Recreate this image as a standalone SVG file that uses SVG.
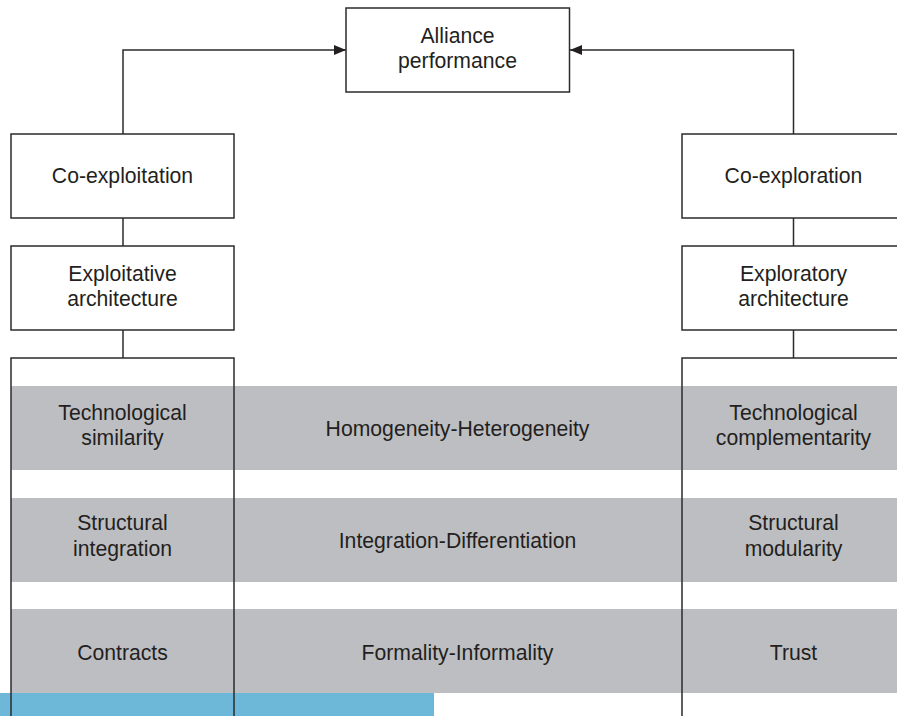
<svg xmlns="http://www.w3.org/2000/svg" width="897" height="716" viewBox="0 0 897 716">
<style>
.band{fill:#bdbec2}
.box{fill:none;stroke:#2b2b2b;stroke-width:1.5}
.bg{fill:#ffffff;stroke:#2b2b2b;stroke-width:1.5}
.ln{fill:none;stroke:#2b2b2b;stroke-width:1.5}
text{font-family:"Liberation Sans",Arial,Helvetica,sans-serif;font-size:21.2px;fill:#231f20;text-anchor:middle}
</style>
<defs>
<marker id="ah" markerWidth="12" markerHeight="10" refX="12" refY="5" orient="auto" markerUnits="userSpaceOnUse">
<path d="M0,0 L12,5 L0,10 Z" fill="#231f20"/>
</marker>
</defs>
<rect width="897" height="716" fill="#ffffff"/>
<g id="bands">
<rect class="band" x="11" y="386" width="886" height="84"/>
<rect class="band" x="11" y="498" width="886" height="84"/>
<rect class="band" x="11" y="609" width="886" height="84"/>
<rect x="0" y="693" width="434" height="23" fill="#6db8d8"/>
</g>
<g id="connectors">
<polyline class="ln" points="123,134 123,50 346,50" marker-end="url(#ah)"/>
<polyline class="ln" points="793.5,134 793.5,50 570,50" marker-end="url(#ah)"/>
<line class="ln" x1="123" y1="218" x2="123" y2="246"/>
<line class="ln" x1="123" y1="330" x2="123" y2="358"/>
<line class="ln" x1="793.5" y1="218" x2="793.5" y2="246"/>
<line class="ln" x1="793.5" y1="330" x2="793.5" y2="358"/>
</g>
<g id="alliance-performance">
<rect class="bg" x="346" y="8" width="223.5" height="84"/>
<text x="457.5" y="43">Alliance</text>
<text x="457.5" y="68">performance</text>
</g>
<g id="co-exploitation">
<rect class="bg" x="11" y="134" width="223" height="84"/>
<text x="122.5" y="183">Co-exploitation</text>
</g>
<g id="co-exploration">
<rect class="bg" x="682" y="134" width="223" height="84"/>
<text x="793.5" y="183">Co-exploration</text>
</g>
<g id="exploitative-architecture">
<rect class="bg" x="11" y="246" width="223" height="84"/>
<text x="122.5" y="280.5">Exploitative</text>
<text x="122.5" y="305.5">architecture</text>
</g>
<g id="exploratory-architecture">
<rect class="bg" x="682" y="246" width="223" height="84"/>
<text x="793.5" y="280.5">Exploratory</text>
<text x="793.5" y="305.5">architecture</text>
</g>
<g id="exploitation-column">
<rect class="box" x="11" y="358" width="223" height="380"/>
<text x="122.5" y="420">Technological</text>
<text x="122.5" y="445">similarity</text>
<text x="122.5" y="530">Structural</text>
<text x="122.5" y="556">integration</text>
<text x="122.5" y="660">Contracts</text>
</g>
<g id="exploration-column">
<rect class="box" x="682" y="358" width="223" height="380"/>
<text x="793.5" y="420">Technological</text>
<text x="793.5" y="445">complementarity</text>
<text x="793.5" y="530">Structural</text>
<text x="793.5" y="556">modularity</text>
<text x="793.5" y="660">Trust</text>
</g>
<g id="dimensions">
<text x="457.5" y="436">Homogeneity-Heterogeneity</text>
<text x="457.5" y="548">Integration-Differentiation</text>
<text x="457.5" y="660">Formality-Informality</text>
</g>
</svg>
